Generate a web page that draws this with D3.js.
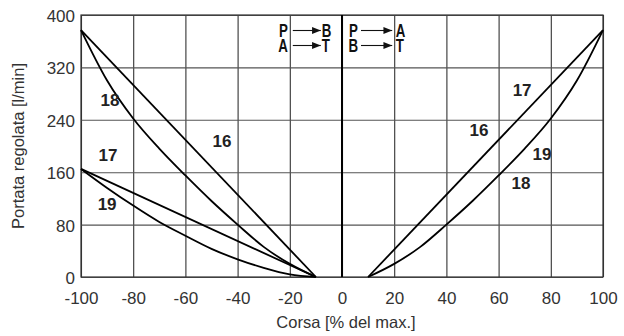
<!DOCTYPE html>
<html>
<head>
<meta charset="utf-8">
<script src="https://cdn.jsdelivr.net/npm/d3@7"></script>
<style>
  body { margin: 0; background: #fff; }
  svg { display: block; }
  .tick text { font-family: "Liberation Sans", Arial, sans-serif; font-size: 17px; fill: #333; }
  .title { font-family: "Liberation Sans", Arial, sans-serif; font-size: 16.5px; fill: #333; }
  .lbl { font-family: "Liberation Sans", Arial, sans-serif; font-size: 17px; font-weight: bold; fill: #222; }
  .leg { font-family: "Liberation Sans", Arial, sans-serif; font-size: 18px; font-weight: bold; fill: #111; }
</style>
</head>
<body>
<script>
// axis ticks
const xTicks = [-100, -80, -60, -40, -20, 0, 20, 40, 60, 80, 100];
const yTicks = [0, 80, 160, 240, 320, 400];

// stroke positions [% of max]
const strokeLeft = [-100, -90, -80, -70, -60, -50, -40, -30, -20, -10];
const strokeRight = [10, 20, 30, 40, 50, 60, 70, 80, 90, 100];

// regulated flow [l/min]
const flow18Left = [377, 300, 242, 196, 155, 116, 80, 46, 20, 0];
const flow19Left = [165, 136, 109, 84, 63, 43, 27, 14, 4, 0];
const flow16Left = [[-100, 377], [-10, 0]];
const flow17Left = [[-100, 165], [-10, 0]];
const flow1617Right = [[10, 0], [100, 377]];
const flow1819Right = [0, 20, 46, 80, 116, 155, 196, 242, 300, 377];

// curve number labels [stroke, flow]
const curveLabels = [
  ['18', -88.9, 270], ['17', -89.7, 186], ['16', -46, 208], ['19', -90, 111],
  ['17', 69, 285], ['16', 52.5, 224], ['19', 76.6, 188], ['18', 68.6, 143.5]
];

// flow directions
const legLeft = [['P', 'B'], ['A', 'T']];
const legRight = [['P', 'A'], ['B', 'T']];

const width = 624, height = 336;
const margin = { top: 15, right: 21, bottom: 59, left: 81 };

const svg = d3.select('body').append('svg')
  .attr('width', width)
  .attr('height', height);

const x = d3.scaleLinear().domain([-100, 100]).range([margin.left, width - margin.right]);
const y = d3.scaleLinear().domain([0, 400]).range([height - margin.bottom, margin.top]);

// grid
svg.append('g')
  .attr('transform', `translate(0,${height - margin.bottom})`)
  .call(d3.axisBottom(x).tickValues(xTicks).tickFormat((d) => String(d))
    .tickSize(-(height - margin.top - margin.bottom)).tickPadding(12))
  .call((g) => g.select('.domain').remove())
  .call((g) => g.selectAll('.tick line').attr('stroke', '#333').attr('stroke-width', 1.1))
  .call((g) => g.selectAll('.tick text').attr('dy', '0.9em'));

svg.append('g')
  .attr('transform', `translate(${margin.left},0)`)
  .call(d3.axisLeft(y).tickValues(yTicks).tickSize(-(width - margin.left - margin.right)).tickPadding(6))
  .call((g) => g.select('.domain').remove())
  .call((g) => g.selectAll('.tick line').attr('stroke', '#555').attr('stroke-width', 1.1))
  .call((g) => g.selectAll('.tick text').attr('dy', '0.38em'));

// frame
svg.append('rect')
  .attr('x', x(-100)).attr('y', y(400))
  .attr('width', x(100) - x(-100)).attr('height', y(0) - y(400))
  .attr('fill', 'none').attr('stroke', '#333').attr('stroke-width', 1.2);

svg.append('line')
  .attr('x1', x(0)).attr('x2', x(0))
  .attr('y1', y(400)).attr('y2', y(0))
  .attr('stroke', '#000').attr('stroke-width', 2);

// curves
const line = d3.line().x((d) => x(d[0])).y((d) => y(d[1])).curve(d3.curveMonotoneX);
const curves = [
  d3.zip(strokeLeft, flow18Left),
  d3.zip(strokeLeft, flow19Left),
  flow16Left,
  flow17Left,
  flow1617Right,
  d3.zip(strokeRight, flow1819Right)
];

svg.append('g')
  .selectAll('path')
  .data(curves)
  .enter().append('path')
    .attr('d', line)
    .attr('fill', 'none')
    .attr('stroke', '#000')
    .attr('stroke-width', 1.8)
    .attr('stroke-linejoin', 'round');

svg.append('g')
  .selectAll('text')
  .data(curveLabels)
  .enter().append('text')
    .attr('class', 'lbl')
    .attr('x', (d) => x(d[1]))
    .attr('y', (d) => y(d[2]))
    .attr('dy', '0.36em')
    .attr('text-anchor', 'middle')
    .text((d) => d[0]);

// flow direction legend
const rowY = [30.5, 45.5];

svg.append('defs').append('marker')
  .attr('id', 'head')
  .attr('viewBox', '0 0 10 8')
  .attr('refX', 10).attr('refY', 4)
  .attr('markerWidth', 11).attr('markerHeight', 7)
  .attr('markerUnits', 'userSpaceOnUse')
  .attr('orient', 'auto')
  .append('path').attr('d', 'M0,0L10,4L0,8Z').attr('fill', '#111');

function narrowText(g, tx, ty, anchor, str) {
  g.append('text').attr('class', 'leg')
    .attr('transform', `translate(${tx},${ty}) scale(0.74,1)`)
    .attr('dy', '0.36em')
    .attr('text-anchor', anchor)
    .text(str);
}

function drawLegend(rows, fromX, toX, startEnd, endStart) {
  const g = svg.append('g');
  rows.forEach((r, i) => {
    narrowText(g, startEnd, rowY[i], 'end', r[0]);
    g.append('line')
      .attr('x1', fromX).attr('x2', toX)
      .attr('y1', rowY[i]).attr('y2', rowY[i])
      .attr('stroke', '#111').attr('stroke-width', 1.1)
      .attr('marker-end', 'url(#head)');
    narrowText(g, endStart, rowY[i], 'start', r[1]);
  });
}

drawLegend(legLeft, x(-20) + 3, x(-20) + 31, x(-20) - 2, x(-20) + 32);
drawLegend(legRight, x(0) + 19, x(20) - 2, x(0) + 16, x(20) + 1.5);

// axis titles
svg.append('text')
  .attr('class', 'title')
  .attr('x', x(0) + 4)
  .attr('y', 328)
  .attr('text-anchor', 'middle')
  .text('Corsa [% del max.]');

svg.append('text')
  .attr('class', 'title')
  .attr('transform', `translate(24,${(y(0) + y(400)) / 2}) rotate(-90)`)
  .attr('text-anchor', 'middle')
  .text('Portata regolata [l/min]');
</script>
</body>
</html>
